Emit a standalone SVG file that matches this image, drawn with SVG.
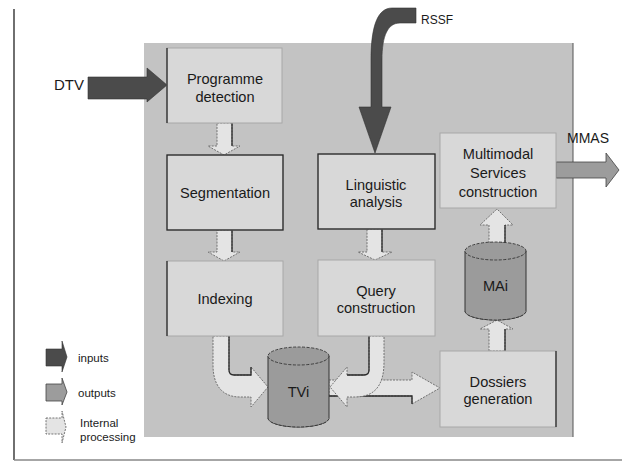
<svg xmlns="http://www.w3.org/2000/svg" width="624" height="462" viewBox="0 0 624 462">
<style>
text{font-family:"Liberation Sans",Arial,sans-serif;fill:#1a1a1a}
.lbl{font-size:14.6px;text-anchor:middle}
.io{font-size:14.5px}
.leg{font-size:11.5px}
.box{fill:#d8d8d8;stroke:#a8a8a8;stroke-width:1}
.dk{stroke:#2a2a2a;stroke-width:1.3;fill:none}
.int{fill:#e4e4e4;stroke:#666;stroke-width:0.9;stroke-dasharray:2,1.2}
.cyl{fill:#9b9b9b;stroke:#333;stroke-width:1}
.cylt{fill:#9b9b9b;stroke:#333;stroke-width:0.9;stroke-dasharray:3,1.5}
.inp{fill:#4b4b4b;stroke:#333;stroke-width:0.6}
.out{fill:#9c9c9c;stroke:#444;stroke-width:0.8}
</style>
<rect width="624" height="462" fill="#fff"/>
<!-- frame -->
<line x1="14" y1="9" x2="14" y2="460" stroke="#222" stroke-width="1.3"/>
<line x1="14" y1="460" x2="622" y2="460" stroke="#888" stroke-width="1.5"/>
<!-- panel -->
<rect x="144" y="43" width="429" height="394" fill="#c3c3c3"/>
<line x1="573" y1="43" x2="573" y2="437" stroke="#555" stroke-width="1"/>

<g id="connectors">
  <!-- Programme -> Segmentation -->
  <path class="int" d="M217,123 H232 V146 H240 L224,155 L208,146 H217 Z"/>
  <line class="dk" x1="232" y1="123" x2="232" y2="146"/>
  <!-- Segmentation -> Indexing -->
  <path class="int" d="M217,230 H232 V252 H240 L224,261 L208,252 H217 Z"/>
  <line class="dk" x1="232" y1="230" x2="232" y2="252"/>
  <!-- Linguistic -> Query -->
  <path class="int" d="M367,229 H382 V252 H392 L375,260 L358,252 H367 Z"/>
  <line class="dk" x1="382" y1="229" x2="382" y2="252"/>
  <!-- Indexing -> TVi -->
  <path class="int" d="M213,336 L229,336 L229,370 Q229,375 234,375 L251,375 L251,367 L268,387 L251,407 L251,397 L240,397 C222,397 213,385 213,365 Z"/>
  <path class="dk" d="M229,336 V370 Q229,375 234,375 H251 V367"/>
  <!-- TVi -> Dossiers -->
  <path class="int" d="M329,380 H412 V372 L440,388 L412,404 V396 H329 Z"/>
  <path class="dk" d="M329,396 H412 V404"/>
  <!-- Query -> TVi -->
  <path class="int" d="M369,336 L384,336 L384,362 C384,385 375,397 355,397 L347,397 L347,407 L330,387 L347,367 L347,375 L364,375 Q369,375 369,370 Z"/>
  <path class="dk" d="M369,336 V370 Q369,375 364,375 H347"/>
  <!-- Dossiers -> MAi -->
  <path class="int" d="M489,351 V329 H480 L497,320 L513,329 H505 V351 Z"/>
  <line class="dk" x1="505" y1="329" x2="505" y2="351"/>
  <!-- MAi -> Multimodal -->
  <path class="int" d="M489,243 V225 H480 L497,209 L513,225 H505 V243 Z"/>
  <path class="dk" d="M489,243 H505 V225"/>
  <!-- DTV input -->
  <path class="inp" d="M88,77 H147 V68 L167,85 L147,102 V99 H88 Z"/>
  <!-- RSSF input -->
  <path class="inp" d="M416,8 L392,8 C378,8 371,25 371,60 L371,107 L359,107 L375,153 L391,107 L382,107 L382,60 C382,35 388,23 400,23 L416,23 Z"/>
  <!-- MMAS output -->
  <path class="out" d="M556,162 H606 V153 L619,170 L606,187 V178 H556 Z"/>
</g>

<g id="programme">
  <rect class="box" x="167" y="48" width="115" height="75"/>
  <line class="dk" x1="167" y1="48" x2="167" y2="123"/>
  <text class="lbl" x="225" y="84">Programme</text>
  <text class="lbl" x="225" y="102">detection</text>
</g>
<g id="segmentation">
  <rect class="box" x="167" y="155" width="116" height="75"/>
  <rect class="dk" x="167" y="155" width="116" height="75"/>
  <text class="lbl" x="225" y="198">Segmentation</text>
</g>
<g id="indexing">
  <rect class="box" x="167" y="261" width="116" height="75"/>
  <line class="dk" x1="167" y1="261" x2="167" y2="336"/>
  <text class="lbl" x="225" y="304">Indexing</text>
</g>
<g id="linguistic">
  <rect class="box" x="318" y="154" width="117" height="75"/>
  <rect class="dk" x="318" y="154" width="117" height="75"/>
  <text class="lbl" x="376" y="190">Linguistic</text>
  <text class="lbl" x="376" y="207">analysis</text>
</g>
<g id="query">
  <rect class="box" x="318" y="260" width="117" height="76"/>
  <text class="lbl" x="376" y="296">Query</text>
  <text class="lbl" x="376" y="313">construction</text>
</g>
<g id="multimodal">
  <rect class="box" x="440" y="133" width="116" height="75"/>
  <text class="lbl" x="498" y="159">Multimodal</text>
  <text class="lbl" x="498" y="178">Services</text>
  <text class="lbl" x="498" y="197">construction</text>
</g>
<g id="dossiers">
  <rect class="box" x="440" y="351" width="116" height="76"/>
  <line class="dk" x1="556" y1="351" x2="556" y2="427"/>
  <text class="lbl" x="498" y="387">Dossiers</text>
  <text class="lbl" x="498" y="404">generation</text>
</g>
<g id="tvi">
  <path class="cyl" d="M268,356 V418 A30.5,9 0 0 0 329,418 V356 Z"/>
  <path class="cylt" d="M268,418 A30.5,9 0 0 0 329,418" fill="none"/>
  <ellipse class="cylt" cx="298.5" cy="356" rx="30.5" ry="9"/>
  <text class="lbl" x="298.5" y="397">TVi</text>
</g>
<g id="mai">
  <path class="cyl" d="M465,251 V311 A30.5,9 0 0 0 526,311 V251 Z"/>
  <path class="cylt" d="M465,311 A30.5,9 0 0 0 526,311" fill="none"/>
  <ellipse class="cylt" cx="495.5" cy="251" rx="30.5" ry="9"/>
  <text class="lbl" x="495.5" y="291">MAi</text>
</g>

<g id="io-labels">
  <text class="io" x="54" y="90" style="font-size:15px">DTV</text>
  <text class="io" x="421" y="24" style="font-size:12px">RSSF</text>
  <text class="io" x="567" y="143" style="font-size:14px">MMAS</text>
</g>

<g id="legend">
  <path class="inp" d="M46,349 H62 V341 L67,357 L62,372 V366 H46 Z"/>
  <text class="leg" x="78" y="362">inputs</text>
  <path class="out" d="M46,384 H62 V378 L67,392 L62,405 V401 H46 Z"/>
  <text class="leg" x="78" y="397">outputs</text>
  <path class="int" d="M46,418 H62 V411 L66,427 L62,443 V434 H46 Z"/>
  <text class="leg" x="80" y="427">Internal</text>
  <text class="leg" x="80" y="441">processing</text>
</g>
</svg>
